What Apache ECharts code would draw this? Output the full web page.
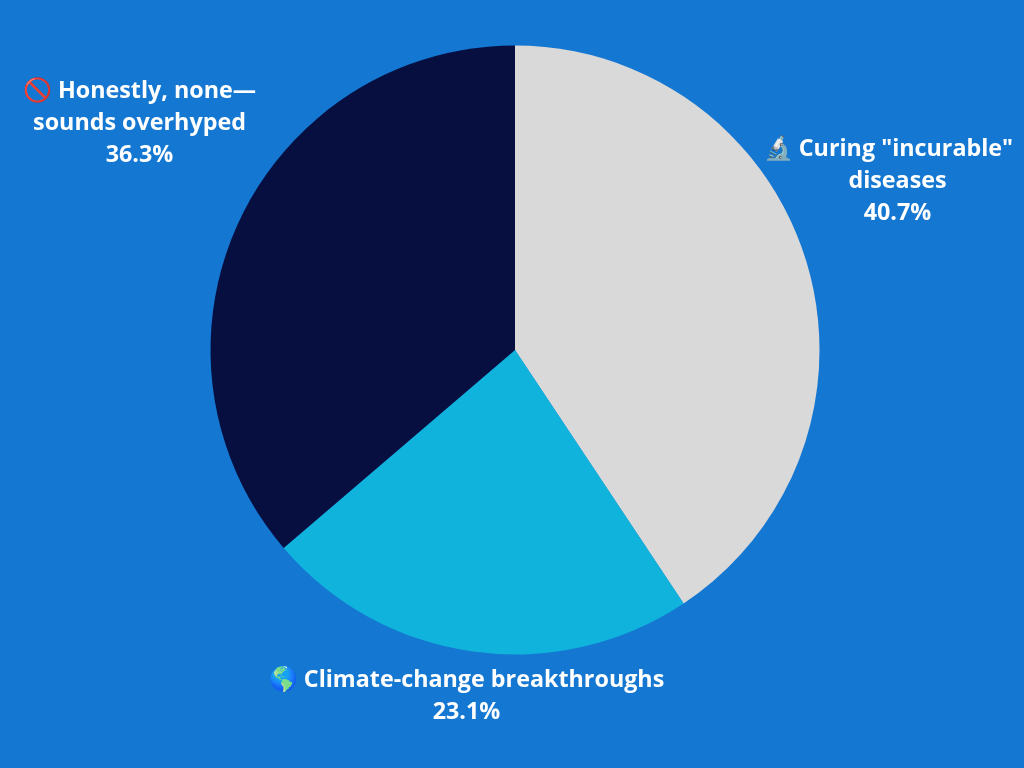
<!DOCTYPE html>
<html>
<head>
<meta charset="utf-8">
<style>html,body{margin:0;padding:0;background:#1477d2}#chart{width:1024px;height:768px}</style>
<script src="https://cdn.jsdelivr.net/npm/echarts@6/dist/echarts.min.js"></script>
</head>
<body>
<div id="chart"></div>
<script>
// The trailing no-break spaces nudge the long first line left of the block's centre.
const categories = ['🔬 Curing "incurable"\u00a0\u00a0\u00a0\ndiseases', '🌎 Climate-change breakthroughs', '🚫 Honestly, none—\nsounds overhyped'];
const shares = [40.7, 23.1, 36.3];
const shareLabels = ['40.7%', '23.1%', '36.3%'];
const sliceColors = ['#d9d9d9', '#10b3dc', '#060f40'];
const labelCentres = [[897.5, 181], [466.5, 696.5], [139.5, 123]];

const chart = echarts.init(document.getElementById('chart'), null, { renderer: 'canvas' });
chart.setOption({
  backgroundColor: '#1477d2',
  animation: false,
  series: [{
    type: 'pie',
    center: [515, 350],
    radius: [0, 304.5],
    startAngle: 90,
    clockwise: true,
    data: categories.map((name, i) => ({
      name, value: shares[i], itemStyle: { color: sliceColors[i] }
    })),
    label: {
      show: true,
      position: 'outside',
      color: '#ffffff',
      fontFamily: '"Open Sans", "Noto Sans", sans-serif',
      fontWeight: 700,
      fontSize: 23.3,
      lineHeight: 32,
      align: 'center',
      overflow: 'none',
      formatter: p => p.name + '\n' + shareLabels[p.dataIndex]
    },
    labelLine: { show: false },
    labelLayout: p => ({
      x: labelCentres[p.dataIndex][0],
      y: labelCentres[p.dataIndex][1],
      align: 'center',
      verticalAlign: 'middle'
    })
  }]
});
</script>
</body>
</html>
